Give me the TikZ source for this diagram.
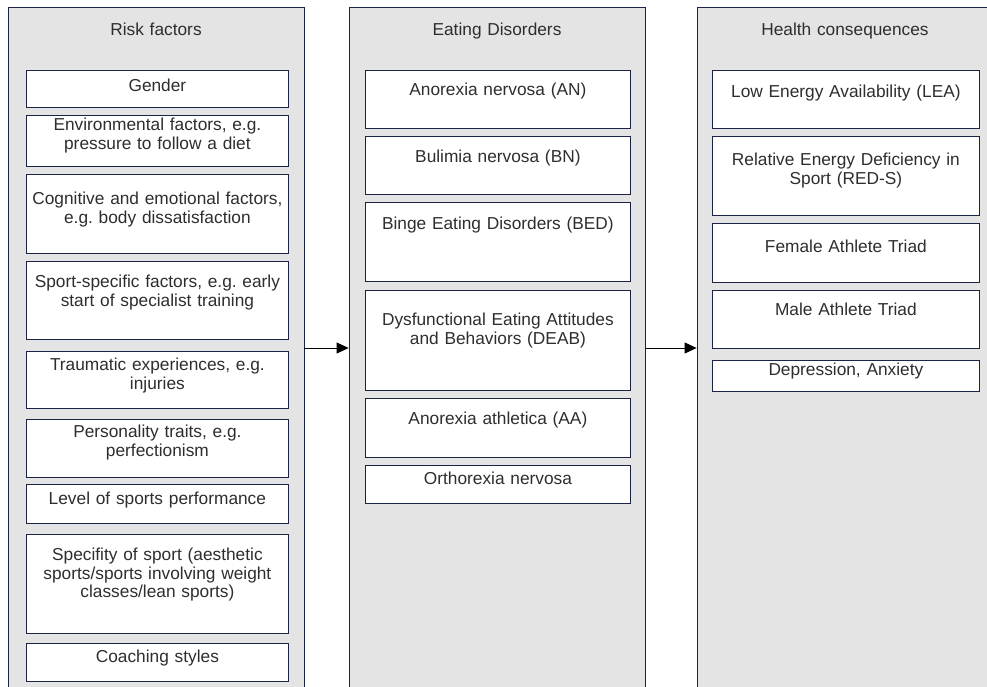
\documentclass[tikz,border=0pt]{standalone}
\usepackage{fontspec}
\setmainfont{Liberation Sans}
\usetikzlibrary{arrows.meta,positioning}
\frenchspacing

\definecolor{panelgray}{HTML}{E4E4E4}
\definecolor{boxline}{HTML}{1C2445}
\definecolor{txtgray}{HTML}{2E2E2E}

\tikzset{
  panel/.style={draw=boxline, fill=panelgray, line width=0.8pt,
    minimum width=296pt, minimum height=682pt, inner sep=0pt},
  itembox/.style={draw=boxline, fill=white, line width=0.8pt,
    inner sep=0pt, anchor=north west},
  itemtext/.style={anchor=north, align=center, inner sep=0pt,
    font=\fontsize{17.3}{18.5}\selectfont, text=txtgray},
  flow/.style={-{Triangle[length=12pt,width=11pt]}, line width=0.8pt, black}
}

\begin{document}
\begin{tikzpicture}[x=1pt,y=-1pt]
    % Rahmen
    \useasboundingbox (0,0) rectangle (987,687);
    \clip (0,0) rectangle (987,687);

    % Spalten
    \node[panel] (risk) at (156,348) {};
    \node[panel] (ed)   at (497,348) {};
    \node[panel] (hc)   at (845,348) {};

    \node[itemtext, text width=290pt] (risk-t) at ([yshift=-16]risk.north) {Risk factors};
    \node[itemtext, text width=290pt] (ed-t)   at ([yshift=-16]ed.north) {Eating Disorders};
    \node[itemtext, text width=290pt] (hc-t)   at ([yshift=-16]hc.north) {Health consequences};

    % Pfeile zwischen den Spalten
    \draw[flow] (risk) -- (ed);
    \draw[flow] (ed) -- (hc);

    % Risikofaktoren
    \foreach \nm/\tp/\bt/\of/\tx in {
        gender/70/107/9/{Gender},
        env/115/166/3/{Environmental factors, e.g.\\ pressure to follow a diet},
        cog/174/253/18/{Cognitive and emotional factors,\\ e.g. body dissatisfaction},
        sport/261/339/14/{Sport-specific factors, e.g. early\\ start of specialist training},
        trauma/351/408/7/{Traumatic experiences, e.g.\\ injuries},
        pers/419/477/6/{Personality traits, e.g.\\ perfectionism},
        level/484/523/8/{Level of sports performance},
        spec/534/633/14/{Specifity of sport (aesthetic\\ sports/sports involving weight\\ classes/lean sports)},
        coach/643/681/7/{Coaching styles}}{
      \node[itembox, minimum width=262pt, minimum height=\bt-\tp] (\nm) at (26,\tp) {};
      \node[itemtext, text width=260pt] (\nm-t) at ([yshift=-\of]\nm.north) {\tx};
    }

    % Essstoerungen
    \foreach \nm/\tp/\bt/\of/\tx in {
        an/70/128/13/{Anorexia nervosa (AN)},
        bn/136/194/14/{Bulimia nervosa (BN)},
        bed/202/281/15/{Binge Eating Disorders (BED)},
        deab/290/390/23/{Dysfunctional Eating Attitudes\\ and Behaviors (DEAB)},
        aa/398/457/14/{Anorexia athletica (AA)},
        ortho/465/503/7/{Orthorexia nervosa}}{
      \node[itembox, minimum width=265pt, minimum height=\bt-\tp] (\nm) at (365,\tp) {};
      \node[itemtext, text width=263pt] (\nm-t) at ([yshift=-\of]\nm.north) {\tx};
    }

    % Gesundheitliche Folgen
    \foreach \nm/\tp/\bt/\of/\tx in {
        lea/70/128/15/{Low Energy Availability (LEA)},
        reds/136/215/17/{Relative Energy Deficiency in\\ Sport (RED-S)},
        fat/223/282/17/{Female Athlete Triad},
        mat/290/348/13/{Male Athlete Triad},
        dep/360/391/3/{Depression, Anxiety}}{
      \node[itembox, minimum width=267pt, minimum height=\bt-\tp] (\nm) at (712,\tp) {};
      \node[itemtext, text width=265pt] (\nm-t) at ([yshift=-\of]\nm.north) {\tx};
    }

\end{tikzpicture}
\end{document}
